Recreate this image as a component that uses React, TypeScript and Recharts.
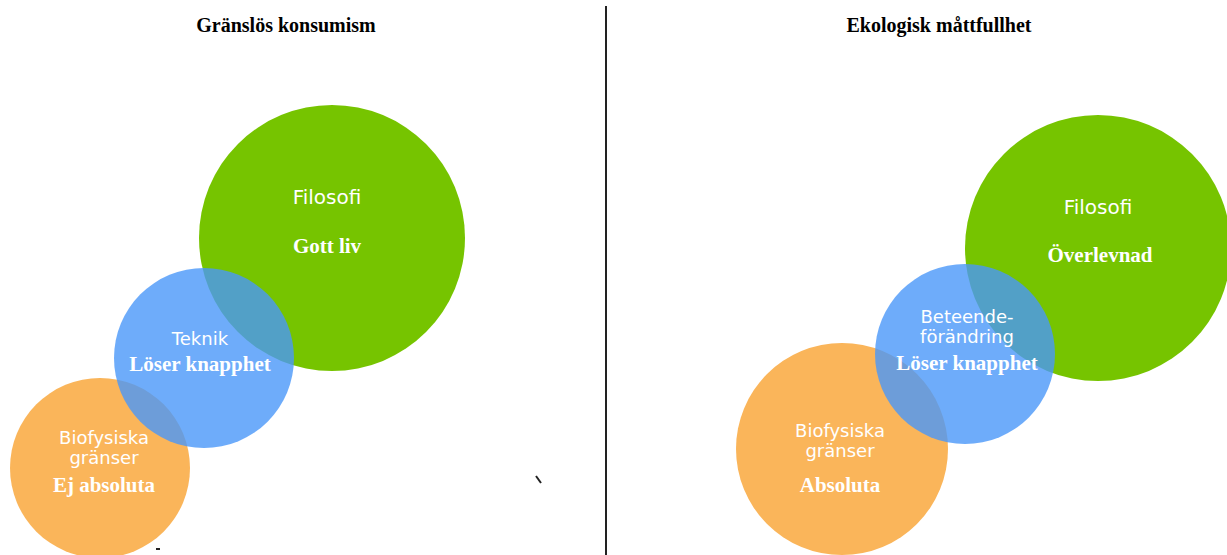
import React from 'react';
import { ScatterChart, Scatter, XAxis, YAxis, ReferenceLine } from 'recharts';

const W = 1227;
const H = 555;

// circles, one point per panel (left: Gränslös konsumism, right: Ekologisk måttfullhet)
const filosofiX = [332, 1098];
const filosofiY = [238, 248];
const filosofiR = [133, 133];

const granserX = [100, 842];
const granserY = [468, 449];
const granserR = [90, 106];

const knapphetX = [204, 965];
const knapphetY = [358, 354];
const knapphetR = [90, 90];

// panel titles
const titles = ['Gränslös konsumism', 'Ekologisk måttfullhet'];
const titleX = [286, 939];
const titleY = [32, 32];

// "Filosofi" heading in the green circles
const headLabels = ['Filosofi', 'Filosofi'];
const headX = [327, 1098];
const headY = [204, 214];

// plain labels inside the other circles
const plainLabels = ['Teknik', 'Biofysiska', 'gränser', 'Beteende-', 'förändring', 'Biofysiska', 'gränser'];
const plainX = [200, 104, 104, 967, 967, 840, 840];
const plainY = [345, 444, 464, 323, 343, 437, 457];

// bold labels inside the circles
const boldLabels = ['Gott liv', 'Löser knapphet', 'Ej absoluta', 'Överlevnad', 'Löser knapphet', 'Absoluta'];
const boldX = [327, 200, 104, 1100, 967, 840];
const boldY = [253, 371, 492, 262, 370, 492];

// divider and two stray strokes in the picture: [x1, y1, x2, y2]
const strokes = [
  [606, 6, 606, 555, 2],
  [536, 476, 541, 483, 2],
  [156, 549, 160, 549, 2],
];

const toCircles = (xs: number[], ys: number[], rs: number[]) =>
  xs.map((x, i) => ({ x, y: ys[i], r: rs[i] }));
const toTexts = (labels: string[], xs: number[], ys: number[]) =>
  labels.map((text, i) => ({ x: xs[i], y: ys[i], text }));

const filosofi = toCircles(filosofiX, filosofiY, filosofiR);
const granser = toCircles(granserX, granserY, granserR);
const knapphet = toCircles(knapphetX, knapphetY, knapphetR);
const titleData = toTexts(titles, titleX, titleY);
const headData = toTexts(headLabels, headX, headY);
const plainData = toTexts(plainLabels, plainX, plainY);
const boldData = toTexts(boldLabels, boldX, boldY);

// plot area equals the svg, so one data unit is one pixel
const circleShape = (fill: string, opacity: number) => (props: any) => (
  <circle cx={props.cx} cy={props.cy} r={props.payload.r} fill={fill} fillOpacity={opacity} />
);

const textShape = (font: string, size: number, weight: string, color: string) => (props: any) => (
  <text
    x={props.cx}
    y={props.cy}
    textAnchor="middle"
    fontFamily={font}
    fontSize={size}
    fontWeight={weight}
    fill={color}
  >
    {props.payload.text}
  </text>
);

export default function App() {
  return (
    <div style={{ width: W, height: H, background: '#fff' }}>
      <style>{'body{margin:0}'}</style>
      <ScatterChart width={W} height={H} margin={{ top: 0, right: 0, bottom: 0, left: 0 }}>
        <XAxis type="number" dataKey="x" domain={[0, W]} allowDataOverflow hide />
        <YAxis type="number" dataKey="y" domain={[0, H]} allowDataOverflow reversed hide />
        {strokes.map(([x1, y1, x2, y2, w], i) => (
          <ReferenceLine
            key={i}
            segment={[{ x: x1, y: y1 }, { x: x2, y: y2 }]}
            stroke="#222"
            strokeWidth={w}
            ifOverflow="visible"
          />
        ))}
        <Scatter data={filosofi} shape={circleShape('#76c400', 1)} isAnimationActive={false} />
        <Scatter data={granser} shape={circleShape('#fab55a', 1)} isAnimationActive={false} />
        <Scatter data={knapphet} shape={circleShape('#4a97f9', 0.8)} isAnimationActive={false} />
        <Scatter data={titleData} shape={textShape('Liberation Serif', 20, 'bold', '#000')} isAnimationActive={false} />
        <Scatter data={headData} shape={textShape('DejaVu Sans', 20, 'normal', '#fff')} isAnimationActive={false} />
        <Scatter data={plainData} shape={textShape('DejaVu Sans', 18, 'normal', '#fff')} isAnimationActive={false} />
        <Scatter data={boldData} shape={textShape('Liberation Serif', 21, 'bold', '#fff')} isAnimationActive={false} />
      </ScatterChart>
    </div>
  );
}
